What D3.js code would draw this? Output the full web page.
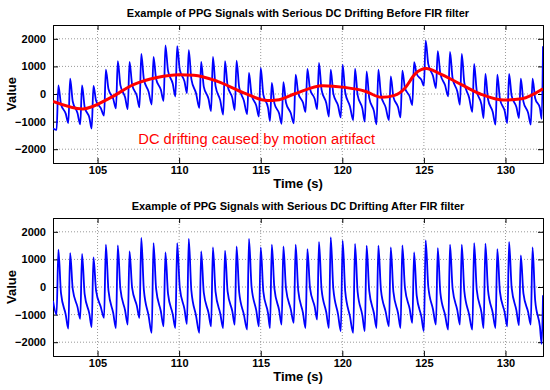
<!DOCTYPE html>
<html>
<head>
<meta charset="utf-8">
<script src="https://cdn.jsdelivr.net/npm/d3@7"></script>
<style>
  body { margin: 0; background: #fff; }
  text { font-family: "Liberation Sans", Arial, sans-serif; }
</style>
</head>
<body>
<svg id="chart" width="550" height="390"></svg>
<script>
// x range of the recording (s) and tick values
var timeRange = [102.27, 132.3];
var xTicks = [105, 110, 115, 120, 125, 130];
var yTicks = [-2000, -1000, 0, 1000, 2000];
var yRange = [-2500, 2500];

// peak time of each heart beat (s)
var beatT = [102.60,103.32,104.05,104.75,105.51,106.24,106.96,107.68,108.43,109.16,109.88,110.59,111.35,112.07,112.81,113.52,114.28,115.00,115.68,116.39,117.14,117.86,118.57,119.29,120.02,120.78,121.49,122.21,122.97,123.68,124.40,125.11,125.85,126.60,127.32,128.08,128.77,129.50,130.22,130.94,131.66];

// before FIR filter: per beat foot (trough before peak), peak, dicrotic notch, tail
var rawFoot  = [-1300,-1050,-1100,-1250,-780,-520,-550,-480,-380,-250,-90,30,-500,-620,-750,-580,-730,-820,-980,-1080,-1060,-650,-550,-820,-850,-950,-1000,-1100,-950,-850,-400,300,218,-85,-390,-650,-870,-1110,-1050,-870,-1110];
var rawPeak  = [315,557,315,290,883,1186,1160,1450,1340,1765,1730,1585,1160,1340,1186,1210,762,944,400,430,700,907,1125,883,1065,920,823,883,641,847,1150,1936,1549,1525,1452,1090,726,700,726,557,557];
var rawNotch = [-370,-270,-470,-245,180,320,340,535,545,840,880,540,270,295,300,240,-30,-20,-340,-315,25,180,150,15,55,-40,-140,-35,-105,220,725,1080,730,570,400,110,-190,-175,-70,-275,-155];
var rawTail  = [-710,-690,-860,-510,-170,-120,-70,80,150,370,455,20,-175,-230,-140,-245,-425,-500,-710,-690,-310,-185,-335,-420,-450,-520,-620,-490,-480,-90,510,650,320,90,-125,-380,-650,-610,-470,-690,-510];
var rawStart = [-1250, -900];   // first sample, last trough
var rawEnd = 1730;              // last sample

// DC drift estimate (red curve)
var driftT = [102.27,104.1,105.8,107.2,108.65,110.0,110.9,112.35,114.0,115.4,116.0,117.1,118.8,120.15,121.4,122.4,123.2,123.85,124.45,125.15,125.9,127.3,128.55,129.9,131.0,132.3];
var driftV = [-270,-540,-130,340,600,700,680,460,30,-240,-220,10,300,240,100,-120,-50,220,720,920,760,340,-20,-220,-170,190];

// after FIR filter
var filtFoot  = [-1000,-1510,-1150,-1450,-1120,-1485,-1365,-1120,-1665,-1425,-1485,-1340,-1665,-1425,-1485,-1365,-1545,-1425,-1485,-1365,-1300,-1485,-1180,-1485,-1600,-1665,-1600,-1485,-1425,-1485,-1300,-1600,-1365,-1545,-1365,-1545,-1485,-1485,-1425,-1390,-1365];
var filtPeak  = [1350,1230,1195,1075,1530,1510,1290,1775,1590,1255,1590,1740,1290,1436,1315,1470,1740,1436,1530,1470,1530,1375,1630,1800,1680,1560,1500,1500,1436,1510,1255,1690,1410,1530,1530,1590,1570,1375,1630,1147,1436];
var filtNotch = [-225,-80,-260,-130,-130,-70,-35,-115,-70,-250,-20,-130,-200,-170,-160,-190,0,-170,-60,-55,-130,-30,-85,-70,-160,-180,-140,-110,-170,-35,-315,10,-215,-60,-160,-100,-110,-165,-30,-235,-485];
var filtTail  = [-1000,-720,-975,-725,-940,-850,-685,-1045,-880,-990,-810,-1050,-935,-960,-880,-1000,-855,-960,-845,-800,-940,-720,-925,-990,-1065,-1030,-950,-900,-960,-795,-1085,-815,-1015,-845,-990,-930,-935,-920,-845,-910,-1430];
var filtStart = [-500, -2060];
var filtEnd = -300;

function wavePoints(foot, peak, notch, tail, start, end) {
  var pts = [[timeRange[0], start[0]]];
  beatT.forEach(function (t, i) {
    pts.push([t - 0.11, foot[i]]);
    pts.push([t, peak[i]]);
    pts.push([t + 0.16, notch[i]]);
    pts.push([t + 0.45, tail[i]]);
  });
  pts.push([timeRange[1] - 0.08, start[1]]);
  pts.push([timeRange[1], end]);
  return pts;
}

var svg = d3.select('#chart');
var left = 53, right = 543;

var x = d3.scaleLinear().domain(timeRange).range([left, right]);

function drawPanel(top, bottom, title, id) {
  var y = d3.scaleLinear().domain(yRange).range([bottom, top]);
  var g = svg.append('g');

  g.append('clipPath').attr('id', id).append('rect')
    .attr('x', left).attr('y', top).attr('width', right - left).attr('height', bottom - top);

  // dotted grid
  g.selectAll('.gx').data(xTicks).enter().append('line')
    .attr('x1', function (d) { return x(d); }).attr('x2', function (d) { return x(d); })
    .attr('y1', top).attr('y2', bottom)
    .attr('stroke', '#999').attr('stroke-dasharray', '1,2');
  g.selectAll('.gy').data(yTicks).enter().append('line')
    .attr('y1', function (d) { return y(d); }).attr('y2', function (d) { return y(d); })
    .attr('x1', left).attr('x2', right)
    .attr('stroke', '#999').attr('stroke-dasharray', '1,2');

  // axes, ticks inside on all sides
  g.append('g').attr('transform', 'translate(0,' + bottom + ')')
    .call(d3.axisBottom(x).tickValues(xTicks).tickSize(-5).tickPadding(3).tickFormat(d3.format('d')));
  g.append('g').attr('transform', 'translate(0,' + top + ')')
    .call(d3.axisTop(x).tickValues(xTicks).tickSize(-5).tickFormat(''));
  g.append('g').attr('transform', 'translate(' + left + ',0)')
    .call(d3.axisLeft(y).tickValues(yTicks).tickSize(-5).tickPadding(7).tickFormat(d3.format('d')));
  g.append('g').attr('transform', 'translate(' + right + ',0)')
    .call(d3.axisRight(y).tickValues(yTicks).tickSize(-5).tickFormat(''));

  g.selectAll('.domain').attr('stroke', '#000').attr('stroke-width', 1);
  g.selectAll('.tick line').attr('stroke', '#000');
  g.selectAll('.tick text').attr('font-size', '11px').attr('font-weight', 'bold').attr('fill', '#000')
    .attr('font-family', '"Liberation Sans", Arial, sans-serif');

  g.append('text').attr('x', (left + right) / 2).attr('y', top - 8)
    .attr('text-anchor', 'middle').attr('font-size', '11px').attr('font-weight', 'bold').text(title);
  g.append('text').attr('x', (left + right) / 2).attr('y', bottom + 25)
    .attr('text-anchor', 'middle').attr('font-size', '13px').attr('font-weight', 'bold').text('Time (s)');
  g.append('text').attr('transform', 'translate(16,' + (top + bottom) / 2 + ') rotate(-90)')
    .attr('text-anchor', 'middle').attr('font-size', '13px').attr('font-weight', 'bold').text('Value');

  var plot = g.append('g').attr('clip-path', 'url(#' + id + ')');
  return { y: y, plot: plot };
}

var p1 = drawPanel(25, 163, 'Example of PPG Signals with Serious DC Drifting Before FIR filter', 'c1');
var p2 = drawPanel(218, 356, 'Example of PPG Signals with Serious DC Drifting After FIR filter', 'c2');

function lineFor(y, curve) {
  return d3.line().x(function (d) { return x(d[0]); }).y(function (d) { return y(d[1]); }).curve(curve);
}

p1.plot.append('path')
  .datum(wavePoints(rawFoot, rawPeak, rawNotch, rawTail, rawStart, rawEnd))
  .attr('d', lineFor(p1.y, d3.curveMonotoneX))
  .attr('fill', 'none').attr('stroke', '#0000ff').attr('stroke-width', 1.8);

p1.plot.append('path')
  .datum(d3.zip(driftT, driftV))
  .attr('d', lineFor(p1.y, d3.curveMonotoneX))
  .attr('fill', 'none').attr('stroke', '#ff0000').attr('stroke-width', 3);

p1.plot.append('text')
  .attr('x', x(107.5)).attr('y', p1.y(-1800))
  .attr('fill', '#ff0000').attr('font-size', '14.7px')
  .text('DC drifting caused by motion artifact');

p2.plot.append('path')
  .datum(wavePoints(filtFoot, filtPeak, filtNotch, filtTail, filtStart, filtEnd))
  .attr('d', lineFor(p2.y, d3.curveMonotoneX))
  .attr('fill', 'none').attr('stroke', '#0000ff').attr('stroke-width', 1.8);
</script>
</body>
</html>
